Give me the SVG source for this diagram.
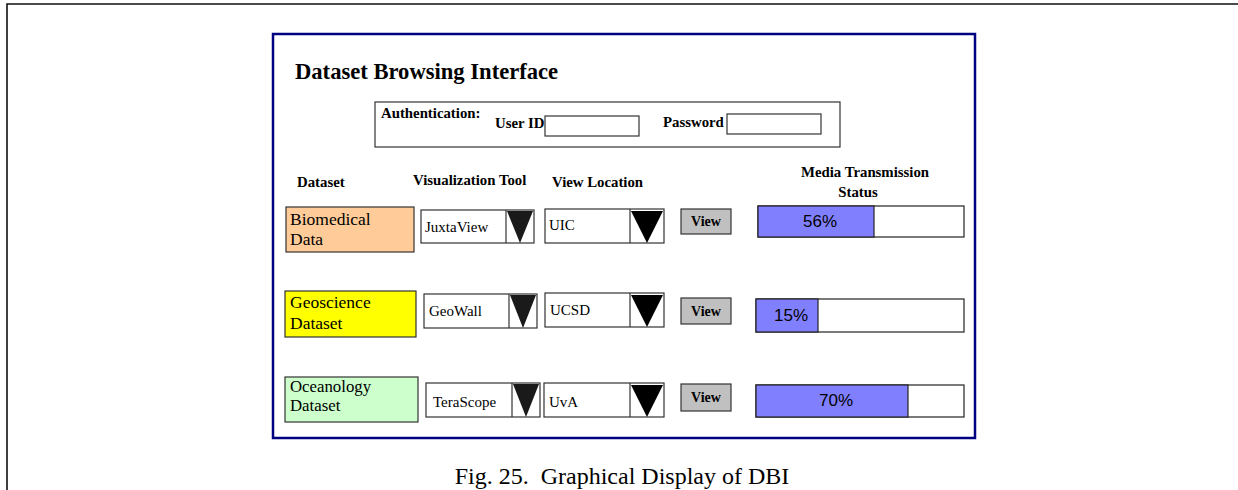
<svg xmlns="http://www.w3.org/2000/svg" width="1238" height="490" viewBox="0 0 1238 490">
  <style>
    .serif { font-family: "Liberation Serif", "Times New Roman", serif; fill: #000; }
    .bold { font-weight: bold; }
    .hdr { font-size: 14.8px; font-weight: bold; }
    .btxt { font-size: 14px; font-weight: bold; text-anchor: middle; }
    .ds { font-size: 17.5px; }
    .ds-tight { font-size: 16.8px; }
    .opt { font-size: 15px; }
    .pct { font-family: "Liberation Sans", Arial, sans-serif; font-size: 17px; fill: #000; text-anchor: middle; }
    .box { stroke: #333; stroke-width: 1.2; }
    .field { fill: #fff; stroke: #333; stroke-width: 1.2; }
    .btn { fill: #c0c0c0; stroke: #333; stroke-width: 1.2; }
    .bar { fill: #fff; stroke: #222; stroke-width: 1.2; }
    .fill { fill: #8080ff; stroke: #222; stroke-width: 1.2; }
    .tri { fill: #000; }
    .tri2 { fill: #1a1a1a; }
    .div { stroke: #333; stroke-width: 1.2; }
  </style>

  <!-- outer frame -->
  <path d="M7,490 V4 H1238" fill="none" stroke="#111" stroke-width="1.6"/>

  <!-- panel -->
  <g id="panel">
    <rect x="273" y="34" width="702" height="404" fill="#fff" stroke="#000080" stroke-width="2.5"/>
    <text x="295" y="79" class="serif bold" font-size="22.6">Dataset Browsing Interface</text>
  </g>

  <!-- authentication -->
  <g id="auth">
    <rect x="375" y="102" width="465" height="45" fill="#fff" class="box"/>
    <text x="381" y="118" class="serif hdr">Authentication:</text>
    <text x="495" y="128" class="serif hdr">User ID</text>
    <rect x="545" y="116" width="94" height="20" class="field"/>
    <text x="663" y="127" class="serif hdr">Password</text>
    <rect x="727" y="114" width="94" height="20" class="field"/>
  </g>

  <!-- column headers -->
  <g id="headers">
    <text x="297" y="187" class="serif hdr">Dataset</text>
    <text x="413" y="185" class="serif hdr">Visualization Tool</text>
    <text x="552" y="187" class="serif hdr">View Location</text>
    <text x="865" y="177" class="serif hdr" text-anchor="middle">Media Transmission</text>
    <text x="858" y="197" class="serif hdr" text-anchor="middle">Status</text>
  </g>

  <!-- row 1 -->
  <g id="row-biomedical">
    <rect x="286" y="207" width="128" height="45" fill="#ffcc99" class="box"/>
    <text x="290" y="225" class="serif ds">Biomedical</text>
    <text x="290" y="245" class="serif ds">Data</text>
  </g>
  <g id="tool-juxtaview">
    <rect x="421" y="210" width="113" height="33" class="field"/>
    <line x1="506" y1="210" x2="506" y2="243" class="div"/>
    <polygon points="507,211 533,211 520,243" class="tri2"/>
    <text x="425" y="232" class="serif opt">JuxtaView</text>
  </g>
  <g id="loc-uic">
    <rect x="545" y="209" width="119" height="34" class="field"/>
    <line x1="630" y1="209" x2="630" y2="243" class="div"/>
    <polygon points="631,211 663,211 647,243" class="tri"/>
    <text x="549" y="230" class="serif opt">UIC</text>
  </g>
  <g id="view-1">
    <rect x="681" y="209" width="50" height="25" class="btn"/>
    <text x="706" y="226" class="serif btxt">View</text>
  </g>
  <g id="status-1">
    <rect x="758" y="206" width="206" height="31" class="bar"/>
    <rect x="758" y="206" width="116" height="31" class="fill"/>
    <text x="820" y="227" class="pct">56%</text>
  </g>

  <!-- row 2 -->
  <g id="row-geoscience">
    <rect x="285" y="291" width="131" height="46" fill="#ffff00" class="box"/>
    <text x="290" y="308" class="serif ds">Geoscience</text>
    <text x="290" y="329" class="serif ds">Dataset</text>
  </g>
  <g id="tool-geowall">
    <rect x="424" y="294" width="113" height="34" class="field"/>
    <line x1="509" y1="294" x2="509" y2="328" class="div"/>
    <polygon points="510,295 536,295 523,328" class="tri2"/>
    <text x="429" y="316" class="serif opt">GeoWall</text>
  </g>
  <g id="loc-ucsd">
    <rect x="545" y="293" width="119" height="34" class="field"/>
    <line x1="630" y1="293" x2="630" y2="327" class="div"/>
    <polygon points="631,295 663,295 647,327" class="tri"/>
    <text x="550" y="315" class="serif opt">UCSD</text>
  </g>
  <g id="view-2">
    <rect x="681" y="298" width="50" height="26" class="btn"/>
    <text x="706" y="316" class="serif btxt">View</text>
  </g>
  <g id="status-2">
    <rect x="756" y="299" width="208" height="33" class="bar"/>
    <rect x="756" y="299" width="62" height="33" class="fill"/>
    <text x="791" y="321" class="pct">15%</text>
  </g>

  <!-- row 3 -->
  <g id="row-oceanology">
    <rect x="285" y="377" width="133" height="45" fill="#ccffcc" class="box"/>
    <text x="290" y="392" class="serif ds-tight">Oceanology</text>
    <text x="290" y="411" class="serif ds-tight">Dataset</text>
  </g>
  <g id="tool-terascope">
    <rect x="426" y="383" width="114" height="34" class="field"/>
    <line x1="512" y1="383" x2="512" y2="417" class="div"/>
    <polygon points="513,384 539,384 526,417" class="tri2"/>
    <text x="433" y="407" class="serif opt">TeraScope</text>
  </g>
  <g id="loc-uva">
    <rect x="544" y="383" width="120" height="34" class="field"/>
    <line x1="630" y1="383" x2="630" y2="417" class="div"/>
    <polygon points="631,385 663,385 647,417" class="tri"/>
    <text x="549" y="407" class="serif opt">UvA</text>
  </g>
  <g id="view-3">
    <rect x="681" y="384" width="50" height="27" class="btn"/>
    <text x="706" y="402" class="serif btxt">View</text>
  </g>
  <g id="status-3">
    <rect x="756" y="385" width="208" height="32" class="bar"/>
    <rect x="756" y="385" width="152" height="32" class="fill"/>
    <text x="836" y="406" class="pct">70%</text>
  </g>

  <!-- caption -->
  <text x="622" y="484" class="serif" font-size="24" text-anchor="middle" xml:space="preserve">Fig. 25.  Graphical Display of DBI</text>
</svg>
